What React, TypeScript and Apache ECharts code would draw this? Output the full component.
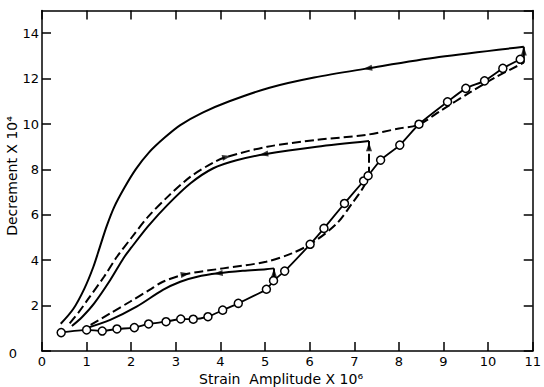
import React, { useEffect, useRef } from "react";
import * as echarts from "echarts";

// Open-circle measurements (increasing amplitude)
const circlePts: number[][] = [
  [0.43, 0.81], [1.0, 0.93], [1.35, 0.88], [1.68, 0.97], [2.07, 1.03], [2.39, 1.19],
  [2.78, 1.29], [3.11, 1.41], [3.39, 1.4], [3.72, 1.51], [4.05, 1.8], [4.4, 2.1],
  [5.03, 2.72], [5.19, 3.1], [5.44, 3.52], [6.01, 4.7], [6.32, 5.4], [6.78, 6.5],
  [7.21, 7.49], [7.31, 7.72], [7.59, 8.41], [8.02, 9.07], [8.45, 9.99], [9.09, 10.98],
  [9.5, 11.57], [9.92, 11.9], [10.33, 12.45], [10.72, 12.85],
];

// Upper solid curve (decreasing from 10.8)
const upperSolid: number[][] = [
  [0.42, 1.2], [0.7, 1.85], [0.95, 2.75], [1.15, 3.7], [1.3, 4.6], [1.45, 5.5],
  [1.62, 6.35], [1.85, 7.2], [2.1, 8.0], [2.4, 8.75], [2.75, 9.4], [3.1, 9.95],
  [3.6, 10.5], [4.2, 11.0], [5.1, 11.6], [6.1, 12.05], [7.3, 12.45], [8.9, 12.95],
  [10.8, 13.4],
];

// Middle dashed curve (increasing to 10.8)
const middleDashed: number[][] = [
  [0.62, 1.22], [0.82, 1.7], [1.02, 2.25], [1.39, 3.27], [1.68, 4.15], [2.01, 5.0],
  [2.38, 5.92], [2.82, 6.8], [3.33, 7.68], [3.84, 8.3], [4.14, 8.55], [5.05, 9.0],
  [6.16, 9.3], [7.26, 9.52], [8.0, 9.8], [8.43, 9.96], [8.95, 10.6], [9.6, 11.4],
  [10.19, 12.08], [10.8, 12.7],
];

// Middle solid curve (decreasing from 7.3)
const middleSolid: number[][] = [
  [0.67, 1.1], [0.9, 1.5], [1.17, 2.1], [1.53, 3.13], [1.83, 4.1], [2.0, 4.55],
  [2.38, 5.5], [2.82, 6.45], [3.33, 7.39], [3.84, 8.05], [4.36, 8.4], [5.02, 8.68],
  [6.16, 9.0], [7.33, 9.25],
];

// Lower dashed curve (increasing to 7.3)
const lowerDashed: number[][] = [
  [1.09, 1.15], [1.53, 1.66], [1.97, 2.17], [2.41, 2.69], [2.71, 3.05], [3.21, 3.38],
  [4.06, 3.64], [5.02, 3.93], [5.6, 4.3], [6.05, 4.75], [6.6, 5.6], [6.95, 6.5],
  [7.2, 7.2], [7.33, 7.72],
];

// Lower solid curve (decreasing from 5.2)
const lowerSolid: number[][] = [
  [0.95, 0.98], [1.53, 1.37], [2.12, 1.95], [2.71, 2.69], [3.1, 3.05], [3.48, 3.27],
  [3.95, 3.42], [4.5, 3.53], [5.02, 3.6], [5.2, 3.64],
];

// Vertical jumps
const jumpLow: number[][] = [[5.2, 3.08], [5.2, 3.64]];
const jumpMid: number[][] = [[7.33, 7.72], [7.33, 9.25]];
const jumpHigh: number[][] = [[10.8, 12.7], [10.8, 13.4]];

// Arrow heads: [x, y, rotation in degrees]
const arrows: number[][] = [
  [7.3, 12.45, 99],
  [4.14, 8.55, -77],
  [4.97, 8.67, 99],
  [3.21, 3.38, -80],
  [3.95, 3.42, 96],
  [5.2, 3.45, 0],
  [7.33, 9.0, 0],
  [10.8, 13.22, 0],
];

const xTicks = [0, 1, 2, 3, 4, 5, 6, 7, 8, 9, 10, 11];
const yTicks = [0, 2, 4, 6, 8, 10, 12, 14];

const FONT = "DejaVu Sans";

function lineSeries(data: number[][], dashed: boolean, smooth: number | boolean = 0.3) {
  return {
    type: "line",
    data,
    showSymbol: false,
    symbol: "none",
    smooth,
    silent: true,
    lineStyle: {
      color: "#000",
      width: 2,
      type: dashed ? [9, 4] : "solid",
    },
    z: 2,
  };
}

export default function App() {
  const ref = useRef<HTMLDivElement>(null);

  useEffect(() => {
    if (!ref.current) return;
    const chart = echarts.init(ref.current, null, { renderer: "svg" });
    const axisCommon = {
      axisLine: { show: true, onZero: false, lineStyle: { color: "#000", width: 1.5 } },
      axisTick: { show: true, inside: true, length: 9, lineStyle: { color: "#000", width: 1.5 } },
      splitLine: { show: false },
    };
    chart.setOption({
      animation: false,
      backgroundColor: "#fff",
      grid: { left: 42, right: 2, top: 10.5, bottom: 36, containLabel: false },
      xAxis: [
        {
          type: "value",
          min: 0,
          max: 11,
          interval: 1,
          position: "bottom",
          ...axisCommon,
          axisLabel: {
            color: "#000",
            fontSize: 13,
            fontFamily: FONT,
            margin: 4,
            formatter: (v: number) => (xTicks.includes(v) ? String(v) : ""),
          },
        },
        {
          type: "value",
          min: 0,
          max: 11,
          interval: 1,
          position: "top",
          ...axisCommon,
          axisLabel: { show: false },
        },
      ],
      yAxis: [
        {
          type: "value",
          min: 0,
          max: 15,
          interval: 2,
          position: "left",
          ...axisCommon,
          axisLabel: {
            color: "#000",
            fontSize: 13,
            fontFamily: FONT,
            margin: 3,
            showMaxLabel: false,
            formatter: (v: number) =>
              yTicks.includes(v) ? (v === 0 ? "{z|0}" : String(v)) : "",
            rich: {
              z: { fontSize: 13, fontFamily: FONT, color: "#000", padding: [4, 22, 0, 0] },
            },
          },
        },
        {
          type: "value",
          min: 0,
          max: 15,
          interval: 2,
          position: "right",
          ...axisCommon,
          axisLabel: { show: false },
        },
      ],
      graphic: [
        {
          type: "text",
          left: 199,
          top: 372,
          silent: true,
          style: {
            text: "Strain  Amplitude X 10⁶",
            fontSize: 14,
            fontFamily: FONT,
            fill: "#000",
          },
        },
        {
          type: "text",
          x: 12,
          y: 176,
          rotation: Math.PI / 2,
          silent: true,
          style: {
            text: "Decrement X 10⁴",
            fontSize: 14,
            fontFamily: FONT,
            fill: "#000",
            align: "center",
            verticalAlign: "middle",
          },
        },
      ],
      series: [
        lineSeries(upperSolid, false),
        lineSeries(middleDashed, true),
        lineSeries(middleSolid, false),
        lineSeries(lowerDashed, true),
        lineSeries(lowerSolid, false),
        lineSeries(jumpLow, false, false),
        lineSeries(jumpMid, true, false),
        lineSeries(jumpHigh, false, false),
        {
          type: "line",
          data: circlePts,
          smooth: 0.2,
          symbol: "circle",
          symbolSize: 8,
          showSymbol: true,
          silent: true,
          lineStyle: { color: "#000", width: 1.8 },
          itemStyle: { color: "#fff", borderColor: "#000", borderWidth: 1.5 },
          z: 4,
        },
        {
          type: "scatter",
          silent: true,
          data: arrows.map((a) => ({
            value: [a[0], a[1]],
            symbolRotate: a[2],
          })),
          symbol: "triangle",
          symbolSize: [6, 9],
          itemStyle: { color: "#000" },
          z: 5,
        },
      ],
    });
    return () => chart.dispose();
  }, []);

  return (
    <div
      ref={ref}
      style={{ position: "fixed", left: 0, top: 0, width: 544, height: 387, background: "#fff" }}
    />
  );
}
